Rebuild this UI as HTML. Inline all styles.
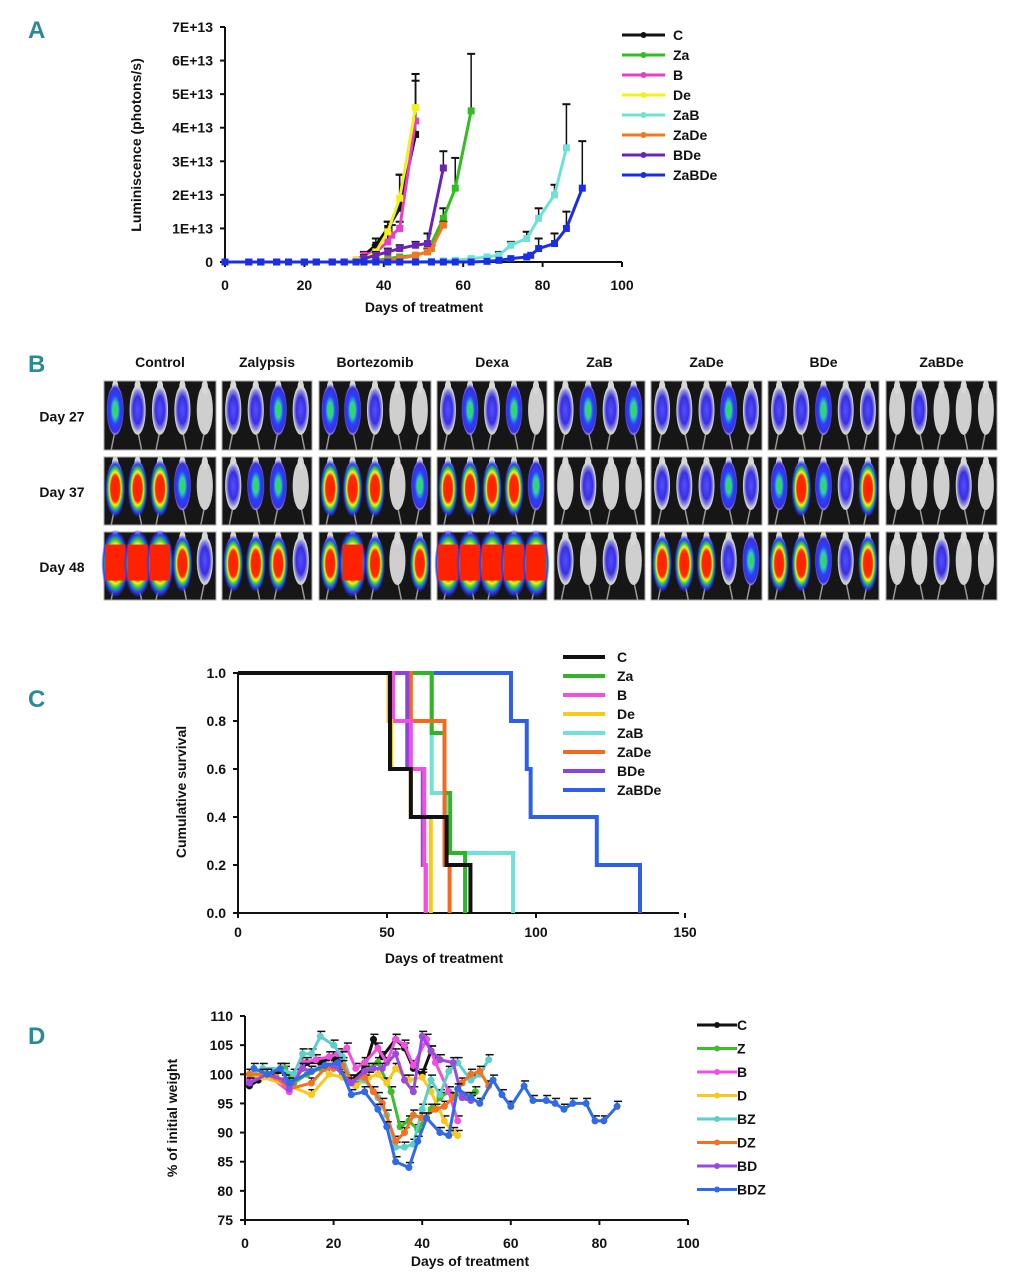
<!DOCTYPE html>
<html><head><meta charset="utf-8"><style>
html,body{margin:0;padding:0;background:#fff;}
svg{display:block;font-family:"Liberation Sans",Arial,sans-serif;}
.t{font-weight:bold;font-size:14px;fill:#111;}
.pl{font-family:"Liberation Sans Narrow","Liberation Sans",sans-serif;font-weight:bold;font-size:24px;fill:#2a8c92;}
</style></head><body>
<svg id="fig" width="1012" height="1280" viewBox="0 0 1012 1280"></svg>
<script>
// ---------- Panel A data (values in units of 1E+13) ----------
const aDays_C   = [0,6,9,13,16,20,23,27,30,33,35,38,41,44,48];
const aVals_C   = [0,0,0,0,0,0,0,0,0,0.05,0.2,0.5,1.0,1.6,3.8];
const aErr_C    = [0,0,0,0,0,0,0,0,0,0,0.1,0.2,0.2,1.0,1.8];
const aDays_Za  = [0,6,9,13,16,20,23,27,30,33,35,38,41,44,48,51,55,58,62];
const aVals_Za  = [0,0,0,0,0,0,0,0,0,0,0,0.05,0.1,0.15,0.2,0.3,1.3,2.2,4.5];
const aErr_Za   = [0,0,0,0,0,0,0,0,0,0,0,0,0,0,0,0.1,0.3,0.9,1.7];
const aDays_B   = [0,6,9,13,16,20,23,27,30,33,35,38,41,42,44,48];
const aVals_B   = [0,0,0,0,0,0,0,0,0,0.05,0.2,0.3,0.6,0.8,1.0,4.2];
const aErr_B    = [0,0,0,0,0,0,0,0,0,0,0.1,0.2,0.2,0.3,0.2,1.2];
const aDays_De  = [0,6,9,13,16,20,23,27,30,33,35,38,41,44,48];
const aVals_De  = [0,0,0,0,0,0,0,0,0,0.05,0.1,0.3,0.9,1.9,4.6];
const aErr_De   = [0,0,0,0,0,0,0,0,0,0,0.1,0.2,0.3,0.7,1.0];
const aDays_ZaB = [0,6,9,13,16,20,23,27,30,33,35,38,41,44,48,52,55,58,62,66,69,72,76,79,83,86];
const aVals_ZaB = [0,0,0,0,0,0,0,0,0,0,0,0,0,0,0,0.02,0.03,0.05,0.1,0.15,0.2,0.5,0.7,1.3,2.0,3.4];
const aErr_ZaB  = [0,0,0,0,0,0,0,0,0,0,0,0,0,0,0,0,0,0,0,0,0.1,0.1,0.2,0.3,0.3,1.3];
const aDays_ZaDe= [0,6,9,13,16,20,23,27,30,33,35,38,41,44,48,51,52,55];
const aVals_ZaDe= [0,0,0,0,0,0,0,0,0,0,0,0,0.05,0.1,0.2,0.3,0.4,1.1];
const aErr_ZaDe = [0,0,0,0,0,0,0,0,0,0,0,0,0,0,0,0.1,0.1,0.1];
const aDays_BDe = [0,6,9,13,16,20,23,27,30,33,35,38,41,44,48,51,55];
const aVals_BDe = [0,0,0,0,0,0,0,0,0,0,0.1,0.2,0.3,0.4,0.5,0.55,2.8];
const aErr_BDe  = [0,0,0,0,0,0,0,0,0,0,0,0.1,0.1,0.1,0.1,0.3,0.5];
const aDays_ZaBDe=[0,6,9,13,16,20,23,27,30,33,35,38,41,44,48,52,55,58,62,66,69,72,76,77,79,83,86,90];
const aVals_ZaBDe=[0,0,0,0,0,0,0,0,0,0,0,0,0,0,0,0,0,0,0,0.02,0.05,0.1,0.15,0.2,0.4,0.55,1.0,2.2];
const aErr_ZaBDe =[0,0,0,0,0,0,0,0,0,0,0,0,0,0,0,0,0,0,0,0,0,0,0,0,0.3,0.3,0.5,1.4];
const aYTicks = ["0","1E+13","2E+13","3E+13","4E+13","5E+13","6E+13","7E+13"];
const aXTicks = [0,20,40,60,80,100];

// ---------- Panel C data (survival steps) ----------
const cDays_C   = [51,58,70,78];      const cSurv_C   = [0.6,0.4,0.2,0];
const cDays_Za  = [65,69.3,71.2,76.2];const cSurv_Za  = [0.75,0.5,0.25,0];
const cDays_B   = [52,58,62.5,63];    const cSurv_B   = [0.8,0.6,0.2,0];
const cDays_De  = [50.5,51.4,58,64.7];const cSurv_De  = [0.8,0.6,0.4,0];
const cDays_ZaB = [65,69.8,92.3];     const cSurv_ZaB = [0.5,0.25,0];
const cDays_ZaDe= [58,69.3,71];       const cSurv_ZaDe= [0.8,0.2,0];
const cDays_BDe = [56.8,62,63];       const cSurv_BDe = [0.6,0.2,0];
const cDays_ZaBDe=[91.6,96.9,98.2,120.4,134.9]; const cSurv_ZaBDe=[0.8,0.6,0.4,0.2,0];
const cYTicks = ["0.0","0.2","0.4","0.6","0.8","1.0"];
const cXTicks = [0,50,100,150];

// ---------- Panel D data (% of initial weight) ----------
const dDays_C  = [1,3,6,9,11,14,17,20,22,24,27,29,31,34,36,38,40,42];
const dVals_C  = [98,99,100,100.5,99,102,102,103,102,99,101,106,103,106,104.5,101,100,104];
const dDays_Z  = [2,5,9,11,14,17,20,22,25,28,30,33,35,37,39,42,44,46,50,52];
const dVals_Z  = [100,100,101,98.5,100,101,101.5,100,98,101,102,97,91,92,90.5,94,96,97,96,97];
const dDays_B  = [1,5,10,13,16,19,21,23,25,27,30,32,34,36,38,41,43,46,48];
const dVals_B  = [99,100,97,102,102.5,103,103.5,104.5,101,102,104.5,102,106,105,101.5,106,102,97,92];
const dDays_D  = [1,4,10,15,19,22,25,28,30,32,34,37,40,42,45,47,48];
const dVals_D  = [100,99.5,98,96.5,100,99.5,98,99.5,100,98.5,101,99,99.5,97,92,90,89.5];
const dDays_BZ = [1,4,8,11,13,15,17,20,22,24,27,30,32,34,36,38,40,42,44,46,48,51,53,55];
const dVals_BZ = [100,101,101,100,103.5,103.5,106.5,105,103,99,99,96,93,87.5,87.5,88,94,99,96.5,100.5,102,99,100,102.5];
const dDays_DZ = [1,4,7,10,15,18,20,22,24,27,29,31,34,36,38,40,43,45,47,49,51,53,55];
const dVals_DZ = [100,100,99.5,97.5,98.5,101,101,101.5,99,99.5,97,95,88.5,90,93,92.5,94,94.5,96,98.5,100,100.5,98];
const dDays_BD = [1,5,9,10,13,15,18,20,24,27,29,31,34,36,38,40,42,44,47,49,51];
const dVals_BD = [98.5,100,99,97.5,101,100.5,101.5,101.5,98.5,100.5,101,101,103.5,99,97,106.5,104,102.5,102,96,95.5];
const dDays_BDZ= [2,5,8,10,15,18,21,24,27,30,32,34,37,39,41,44,46,48,51,53,56,58,60,63,65,68,70,72,74,77,79,81,84];
const dVals_BDZ= [101,100,101,98.5,100.5,101.5,102,96.5,97,94,91,85,84,88.5,92.5,90,89.5,97.5,96,95,99,96.5,94.5,98,95.5,95.5,95,94,95,95,92,92,94.5];
const dYTicks = [75,80,85,90,95,100,105,110];
const dXTicks = [0,20,40,60,80,100];

// ---------- Panel B data (signal level per mouse) ----------
const bCols = ["Control","Zalypsis","Bortezomib","Dexa","ZaB","ZaDe","BDe","ZaBDe"];
const bRows = ["Day 27","Day 37","Day 48"];
const bLevels = [
 [[2,1,1,1,0],[3,3,3,2,0],[4,4,4,3,1]],
 [[1,1,2,1],[1,2,2,0],[3,3,3,1]],
 [[2,2,1,0,0],[3,3,3,0,2],[3,4,3,0,3]],
 [[1,2,1,2,0],[3,3,3,3,2],[4,4,4,4,4]],
 [[1,2,1,2],[0,1,0,0],[1,0,1,0]],
 [[1,1,1,2,1],[1,1,1,2,1],[3,3,3,1,2]],
 [[1,1,2,1,1],[2,3,2,1,3],[3,3,2,1,3]],
 [[0,1,0,0,0],[0,0,0,1,0],[0,0,1,0,0]]
];

const NS="http://www.w3.org/2000/svg";
const svg=document.getElementById('fig');
function mk(tag,attrs,parent,txt){const e=document.createElementNS(NS,tag);for(const k in attrs)e.setAttribute(k,attrs[k]);if(txt!==undefined)e.textContent=txt;(parent||svg).appendChild(e);return e;}
function grp(name,parent){const g=mk('g',{},parent);return g;}
function txt(parent,x,y,s,name,extra){const t=mk('text',Object.assign({x:x,y:y,class:'t'},extra||{}),parent,s);return t;}
function ln(parent,x1,y1,x2,y2,c,w,name){const l=mk('line',{x1:x1,y1:y1,x2:x2,y2:y2,stroke:c,'stroke-width':w},parent);return l;}

const defs=mk('defs',{});
function radial(id,stops){const g=mk('radialGradient',{id:id},defs);stops.forEach(s=>mk('stop',{offset:s[0],'stop-color':s[1],'stop-opacity':s[2]===undefined?1:s[2]},g));}
radial('g1',[[0,'#5050ff'],[0.6,'#3a2fe0'],[0.85,'#6a6ae8',0.7],[1,'#8888ee',0]]);
radial('g2',[[0,'#30e030'],[0.3,'#30d0a0'],[0.55,'#2a40ff'],[0.85,'#3b2fe0'],[1,'#5a5ae8',0]]);
radial('g3',[[0,'#ff2000'],[0.45,'#ff2a00'],[0.58,'#ffee20'],[0.7,'#30d040'],[0.85,'#2a3cff'],[1,'#3030e0',0]]);

[['A',28,38],['B',28,372],['C',28,707],['D',28,1044]].forEach(p=>{const t=mk('text',{x:p[1],y:p[2],class:'pl'},svg,p[0]);});

function legend(parent,x1,x2,tx,y0,dy,names,colors,w,marker){
  names.forEach((n,i)=>{const g=grp('legend-entry-'+n.toLowerCase(),parent);const y=y0+i*dy;
    ln(g,x1,y,x2,y,colors[i],w,'legend-swatch');
    if(marker)mk('circle',{cx:(x1+x2)/2,cy:y,r:3,fill:colors[i]},g);
    txt(g,tx,y+5,n,'legend-label');});
}

// ================= Panel A =================
(function(){
 const g=grp('panel-a-luminescence-chart');
 const X0=225,X1=622,Y0=262,Y1=27;
 const xA=d=>X0+d*(X1-X0)/100, yA=v=>Y0-v*(Y0-Y1)/7;
 ln(g,X0,Y1,X0,Y0,'#111',2,'y-axis');ln(g,X0,Y0,X1,Y0,'#111',2,'x-axis');
 aYTicks.forEach((s,i)=>{ln(g,X0-5,yA(i),X0,yA(i),'#111',2,'y-tick');txt(g,X0-12,yA(i)+5,s,'y-tick-label',{'text-anchor':'end'});});
 aXTicks.forEach(d=>{ln(g,xA(d),Y0,xA(d),Y0+5,'#111',2,'x-tick');txt(g,xA(d),Y0+28,String(d),'x-tick-label',{'text-anchor':'middle'});});
 txt(g,424,312,'Days of treatment','x-axis-title',{'text-anchor':'middle','font-size':'16'});
 txt(g,0,0,'Luminiscence (photons/s)','y-axis-title',{'text-anchor':'middle','font-size':'16',transform:'translate(141,145) rotate(-90)'});
 const series=[['C',aDays_C,aVals_C,aErr_C,'#111'],['Za',aDays_Za,aVals_Za,aErr_Za,'#2fbf1f'],['B',aDays_B,aVals_B,aErr_B,'#e63ec8'],['De',aDays_De,aVals_De,aErr_De,'#f2f21a'],['ZaB',aDays_ZaB,aVals_ZaB,aErr_ZaB,'#6fe2d8'],['ZaDe',aDays_ZaDe,aVals_ZaDe,aErr_ZaDe,'#f07822'],['BDe',aDays_BDe,aVals_BDe,aErr_BDe,'#6a24b8'],['ZaBDe',aDays_ZaBDe,aVals_ZaBDe,aErr_ZaBDe,'#1a2ee8']];
 series.forEach(s=>{const sg=grp('series-'+s[0].toLowerCase(),g);
   s[1].forEach((d,i)=>{if(s[3][i]>0){const x=xA(d),y=yA(s[2][i]),ye=yA(s[2][i]+s[3][i]);ln(sg,x,y,x,ye,'#111',1.5,'error-bar');ln(sg,x-4,ye,x+4,ye,'#111',2,'error-cap');}});
   const p=mk('polyline',{points:s[1].map((d,i)=>xA(d)+','+yA(s[2][i])).join(' '),fill:'none',stroke:s[4],'stroke-width':3},sg);
   
   s[1].forEach((d,i)=>{const r=mk('rect',{x:xA(d)-3.5,y:yA(s[2][i])-3.5,width:7,height:7,fill:s[4]},sg);});
 });
 legend(g,622,665,673,35,20,series.map(s=>s[0]),series.map(s=>s[4]),3,true);
})();

// ================= Panel B =================
(function(){
 const g=grp('panel-b-imaging-grid');
 const cols=[[104,216],[222,312],[319,431],[437,547],[554,645],[651,762],[768,879],[886,997]];
 const rows=[[381,450],[457,525],[532,600]];
 bCols.forEach((c,i)=>txt(g,(cols[i][0]+cols[i][1])/2,367,c,'column-title',{'text-anchor':'middle'}));
 bRows.forEach((r,j)=>txt(g,62,(rows[j][0]+rows[j][1])/2+6,r,'row-label',{'text-anchor':'middle'}));
 bLevels.forEach((colL,i)=>colL.forEach((lv,j)=>{
   const tg=grp('image-'+bCols[i].toLowerCase()+'-'+bRows[j].replace(' ','').toLowerCase(),g);
   const x0=cols[i][0],x1=cols[i][1],y0=rows[j][0],y1=rows[j][1];
   mk('rect',{x:x0,y:y0,width:x1-x0,height:y1-y0,fill:'#161616',stroke:'#aaa','stroke-width':1},tg);
   const n=lv.length,w=(x1-x0)/n;
   lv.forEach((L,k)=>{const cx=x0+w*(k+0.5),cy=y0+(y1-y0)*0.42;
     mk('line',{x1:cx,y1:cy+20,x2:cx+(k%2?4:-4),y2:y1,stroke:'#999','stroke-width':1.5},tg);
     mk('ellipse',{cx:cx,cy:cy,rx:w*0.36,ry:(y1-y0)*0.36,fill:'#cfcfcf'},tg);
     mk('ellipse',{cx:cx,cy:y0+6,rx:w*0.14,ry:7,fill:'#d8d8d8'},tg);
     if(L===1){mk('ellipse',{cx:cx,cy:cy,rx:w*0.34,ry:(y1-y0)*0.33,fill:'url(#g1)'},tg);}
     else if(L===2){mk('ellipse',{cx:cx,cy:cy,rx:w*0.4,ry:(y1-y0)*0.38,fill:'url(#g2)'},tg);}
     else if(L===3){mk('ellipse',{cx:cx,cy:cy+3,rx:w*0.45,ry:(y1-y0)*0.42,fill:'url(#g3)'},tg);}
     else if(L===4){mk('ellipse',{cx:cx,cy:cy+3,rx:w*0.62,ry:(y1-y0)*0.5,fill:'url(#g3)'},tg);mk('rect',{x:cx-w*0.45,y:cy-16,width:w*0.9,height:36,fill:'#ff2200'},tg);}
   });
 }));
})();

// ================= Panel C =================
(function(){
 const g=grp('panel-c-survival-chart');
 const X0=238,Y0=913,Y1=673;
 const xC=d=>X0+d*2.98, yC=s=>Y0-s*(Y0-Y1);
 ln(g,X0,Y1,X0,Y0,'#111',2,'y-axis');ln(g,X0,Y0,xC(148),Y0,'#111',2,'x-axis');
 cYTicks.forEach((s,i)=>{const v=i*0.2;ln(g,X0-5,yC(v),X0,yC(v),'#111',2,'y-tick');txt(g,X0-12,yC(v)+5,s,'y-tick-label',{'text-anchor':'end'});});
 cXTicks.forEach(d=>{ln(g,xC(d),Y0,xC(d),Y0+5,'#111',2,'x-tick');txt(g,xC(d),Y0+24,String(d),'x-tick-label',{'text-anchor':'middle'});});
 txt(g,444,963,'Days of treatment','x-axis-title',{'text-anchor':'middle','font-size':'16'});
 txt(g,0,0,'Cumulative  survival','y-axis-title',{'text-anchor':'middle','font-size':'16',transform:'translate(186,792) rotate(-90)'});
 const series=[['ZaBDe',cDays_ZaBDe,cSurv_ZaBDe,'#2f5fe8'],['ZaB',cDays_ZaB,cSurv_ZaB,'#72e0da'],['Za',cDays_Za,cSurv_Za,'#2fb52a'],['ZaDe',cDays_ZaDe,cSurv_ZaDe,'#f26a1e'],['BDe',cDays_BDe,cSurv_BDe,'#8a44dc'],['B',cDays_B,cSurv_B,'#f24fe0'],['De',cDays_De,cSurv_De,'#f8c81a'],['C',cDays_C,cSurv_C,'#111']];
 series.forEach(s=>{let d='M'+xC(0)+','+yC(1);
   s[1].forEach((day,i)=>{d+=' H'+xC(day)+' V'+yC(s[2][i]);});
   const p=mk('path',{d:d,fill:'none',stroke:s[3],'stroke-width':4},g);
   });
 const order=['C','Za','B','De','ZaB','ZaDe','BDe','ZaBDe'];
 legend(g,563,605,617,657,19,order,order.map(n=>series.find(s=>s[0]===n)[3]),4,false);
})();

// ================= Panel D =================
(function(){
 const g=grp('panel-d-weight-chart');
 const X0=245,X1=688,Y0=1220,Y1=1016;
 const xD=d=>X0+d*(X1-X0)/100, yD=v=>Y0-(v-75)*(Y0-Y1)/35;
 ln(g,X0,Y1,X0,Y0,'#111',2,'y-axis');ln(g,X0,Y0,X1,Y0,'#111',2,'x-axis');
 dYTicks.forEach(v=>{ln(g,X0-5,yD(v),X0,yD(v),'#111',2,'y-tick');txt(g,X0-12,yD(v)+5,String(v),'y-tick-label',{'text-anchor':'end'});});
 dXTicks.forEach(d=>{ln(g,xD(d),Y0,xD(d),Y0+5,'#111',2,'x-tick');txt(g,xD(d),Y0+28,String(d),'x-tick-label',{'text-anchor':'middle'});});
 txt(g,470,1266,'Days of treatment','x-axis-title',{'text-anchor':'middle','font-size':'16'});
 txt(g,0,0,'% of initial weight','y-axis-title',{'text-anchor':'middle','font-size':'16',transform:'translate(177,1118) rotate(-90)'});
 const series=[['C',dDays_C,dVals_C,'#111'],['Z',dDays_Z,dVals_Z,'#3cc02a'],['B',dDays_B,dVals_B,'#f24fe0'],['D',dDays_D,dVals_D,'#f8c81a'],['BZ',dDays_BZ,dVals_BZ,'#5cd0c8'],['DZ',dDays_DZ,dVals_DZ,'#f27222'],['BD',dDays_BD,dVals_BD,'#9a4ae0'],['BDZ',dDays_BDZ,dVals_BDZ,'#2f6ae8']];
 series.forEach(s=>{const sg=grp('series-'+s[0].toLowerCase(),g);
   s[1].forEach((d,i)=>{const x=xD(d),y=yD(s[2][i]);ln(sg,x,y,x,y-5,'#111',1,'error-bar');ln(sg,x-3,y-5,x+5,y-5,'#111',1.5,'error-cap');});
   const p=mk('polyline',{points:s[1].map((d,i)=>xD(d)+','+yD(s[2][i])).join(' '),fill:'none',stroke:s[3],'stroke-width':3},sg);
   
   s[1].forEach((d,i)=>{const c=mk('circle',{cx:xD(d),cy:yD(s[2][i]),r:3.5,fill:s[3]},sg);});
 });
 legend(g,697,737,737,1025,23.5,series.map(s=>s[0]),series.map(s=>s[3]),3,true);
})();
</script>
</body></html>
